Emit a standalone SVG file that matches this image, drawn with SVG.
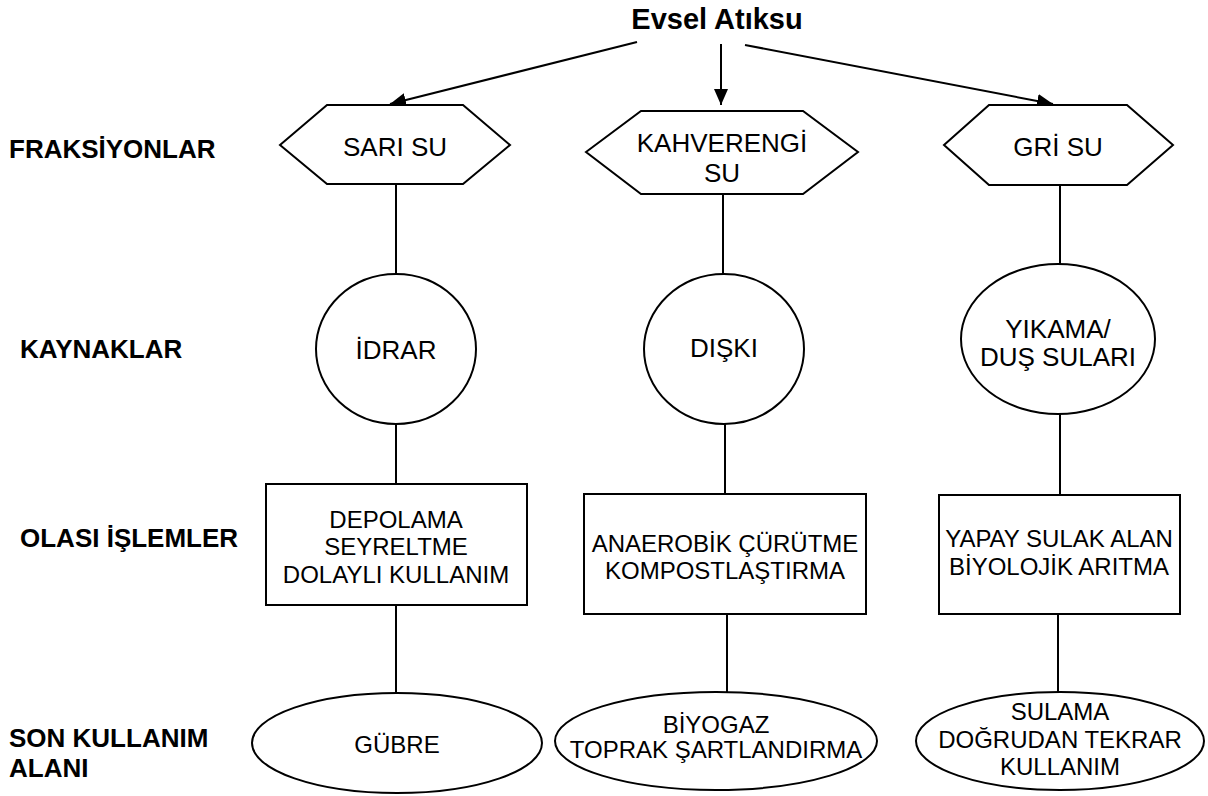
<svg xmlns="http://www.w3.org/2000/svg" width="1208" height="796" viewBox="0 0 1208 796">
<style>
.bg{fill:#ffffff}
.shape{fill:#ffffff;stroke:#000000;stroke-width:2}
.conn{stroke:#000000;stroke-width:2;fill:none}
.lbl{font-family:"Liberation Sans",Arial,sans-serif;font-size:24px;fill:#000000;text-anchor:middle}
.big{font-size:26px}
.side{font-family:"Liberation Sans",Arial,sans-serif;font-size:26px;font-weight:bold;fill:#000000}
.title{font-family:"Liberation Sans",Arial,sans-serif;font-size:29px;font-weight:bold;fill:#000000;text-anchor:middle}
</style>
<defs>
<marker id="arr" viewBox="0 0 16 14" refX="16" refY="7" markerWidth="16" markerHeight="14" markerUnits="userSpaceOnUse" orient="auto">
<path d="M0,0 L16,7 L0,14 Z" fill="#000000"/>
</marker>
</defs>
<rect class="bg" x="0" y="0" width="1208" height="796"/>

<g id="title"><text class="title" x="717" y="29">Evsel Atıksu</text></g>

<g id="side-labels">
<text class="side" x="9" y="158">FRAKSİYONLAR</text>
<text class="side" x="20" y="358">KAYNAKLAR</text>
<text class="side" x="20" y="547">OLASI İŞLEMLER</text>
<text class="side" x="9" y="747">SON KULLANIM</text>
<text class="side" x="9" y="777">ALANI</text>
</g>

<g id="connectors">
<line class="conn" x1="637" y1="42" x2="390" y2="104" marker-end="url(#arr)"/>
<line class="conn" x1="721" y1="44" x2="721" y2="105" marker-end="url(#arr)"/>
<line class="conn" x1="745" y1="45" x2="1053" y2="104" marker-end="url(#arr)"/>
<line class="conn" x1="396" y1="184" x2="396" y2="273"/>
<line class="conn" x1="396" y1="424" x2="396" y2="484"/>
<line class="conn" x1="396" y1="605" x2="396" y2="693"/>
<line class="conn" x1="723" y1="194" x2="723" y2="274"/>
<line class="conn" x1="725" y1="424" x2="725" y2="494"/>
<line class="conn" x1="727" y1="614" x2="727" y2="692"/>
<line class="conn" x1="1060" y1="185" x2="1060" y2="264"/>
<line class="conn" x1="1060" y1="414" x2="1060" y2="495"/>
<line class="conn" x1="1058" y1="614" x2="1058" y2="692"/>
</g>

<g id="sari-su">
<polygon class="shape" points="280,145 327,105 463,105 510,145 463,184 327,184"/>
<text class="lbl big" x="395" y="156">SARI SU</text>
</g>
<g id="kahverengi-su">
<polygon class="shape" points="586,152 641,111 803,111 858,152 803,194 641,194"/>
<text class="lbl big" x="722" y="152">KAHVERENGİ</text>
<text class="lbl big" x="722" y="182">SU</text>
</g>
<g id="gri-su">
<polygon class="shape" points="944,145 989,105 1127,105 1173,145 1127,185 989,185"/>
<text class="lbl big" x="1058" y="156">GRİ SU</text>
</g>

<g id="idrar">
<ellipse class="shape" cx="396" cy="349" rx="80" ry="75"/>
<text class="lbl big" x="396" y="359">İDRAR</text>
</g>
<g id="diski">
<ellipse class="shape" cx="724" cy="349" rx="80" ry="75"/>
<text class="lbl big" x="724" y="357">DIŞKI</text>
</g>
<g id="yikama">
<ellipse class="shape" cx="1058" cy="339" rx="97" ry="75"/>
<text class="lbl big" x="1058" y="338">YIKAMA/</text>
<text class="lbl big" x="1058" y="366">DUŞ SULARI</text>
</g>

<g id="depolama">
<rect class="shape" x="266" y="484" width="261" height="121"/>
<text class="lbl" x="396" y="528">DEPOLAMA</text>
<text class="lbl" x="396" y="555">SEYRELTME</text>
<text class="lbl" x="396" y="583">DOLAYLI KULLANIM</text>
</g>
<g id="anaerobik">
<rect class="shape" x="584" y="494" width="282" height="120"/>
<text class="lbl" x="725" y="552">ANAEROBİK ÇÜRÜTME</text>
<text class="lbl" x="725" y="579">KOMPOSTLAŞTIRMA</text>
</g>
<g id="yapay">
<rect class="shape" x="939" y="495" width="241" height="119"/>
<text class="lbl" x="1059" y="547">YAPAY SULAK ALAN</text>
<text class="lbl" x="1059" y="575">BİYOLOJİK ARITMA</text>
</g>

<g id="gubre">
<ellipse class="shape" cx="397" cy="743" rx="145" ry="50"/>
<text class="lbl" x="397" y="753">GÜBRE</text>
</g>
<g id="biyogaz">
<ellipse class="shape" cx="716" cy="741" rx="161" ry="49"/>
<text class="lbl" x="716" y="733">BİYOGAZ</text>
<text class="lbl" x="716" y="758">TOPRAK ŞARTLANDIRMA</text>
</g>
<g id="sulama">
<ellipse class="shape" cx="1060" cy="741" rx="144" ry="49"/>
<text class="lbl" x="1060" y="720">SULAMA</text>
<text class="lbl" x="1060" y="748">DOĞRUDAN TEKRAR</text>
<text class="lbl" x="1060" y="775">KULLANIM</text>
</g>
</svg>
